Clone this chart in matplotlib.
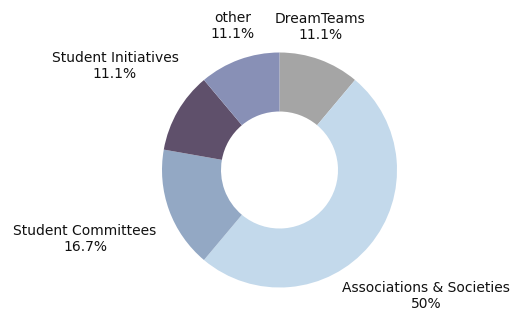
import matplotlib
matplotlib.use("Agg")
from matplotlib import pyplot as plt

labels = ["DreamTeams", "Associations & Societies", "Student Committees",
          "Student Initiatives", "other"]
values = [2, 9, 3, 2, 2]
colors = ["#a5a5a5", "#c3d9eb", "#93a8c4", "#5f506b", "#8890b6"]

# label anchor points in pixel coords (x, y from top)
label_pos = [(320, 27), (426, 296), (85, 239), (115, 66), (233, 26)]

total = sum(values)
pct = [100.0 * v / total for v in values]

fig = plt.figure(figsize=(5.17, 3.11), dpi=100)
ax = fig.add_axes([0, 0, 1, 1])

ax.pie(values, colors=colors, startangle=90, counterclock=False,
       center=(279.5, 141), radius=117.5,
       wedgeprops=dict(width=59, edgecolor="none"), frame=True)
ax.set_xlim(0, 517)
ax.set_ylim(0, 311)
ax.set_aspect("equal")
ax.axis("off")

for lab, p, (x, y) in zip(labels, pct, label_pos):
    s = "%g%%" % round(p, 1)
    ax.text(x, 311 - y, lab + "\n" + s, ha="center", va="center",
            fontsize=10, color="#111111", linespacing=1.2)

fig.savefig("out.png", dpi=100)
